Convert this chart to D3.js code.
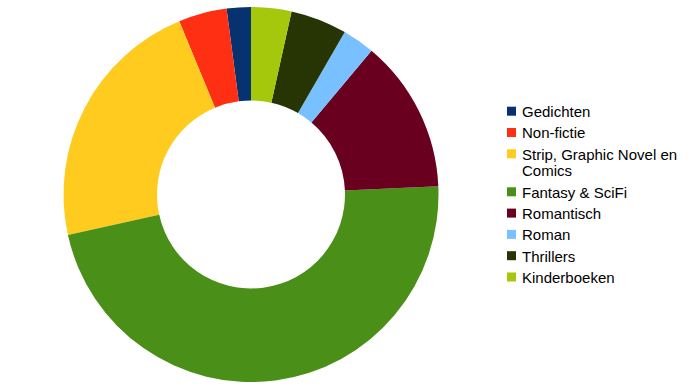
<!DOCTYPE html>
<html>
<head>
<meta charset="utf-8">
<script src="https://cdn.jsdelivr.net/npm/d3@7"></script>
<style>
  html, body { margin: 0; padding: 0; background: #ffffff; }
  svg { display: block; }
</style>
</head>
<body>
<svg id="chart" width="693" height="390"></svg>
<script>
const categories = ["Gedichten", "Non-fictie", "Strip, Graphic Novel en Comics", "Fantasy & SciFi", "Romantisch", "Roman", "Thrillers", "Kinderboeken"];
const values = [3, 6, 32, 68, 19, 4, 7, 5];
const colors = ["#06326f", "#ff2f14", "#fecb1e", "#4a8f18", "#6a0020", "#78c0ff", "#273505", "#a6c80c"];

const svg = d3.select("#chart");
const cx = 251, cy = 194.5, outerR = 187.5, innerR = 94;

const data = categories.map((c, i) => ({ category: c, value: values[i], color: colors[i] }));

const pie = d3.pie().sort(null).value(d => d.value).startAngle(0).endAngle(-2 * Math.PI);
const arc = d3.arc().innerRadius(innerR).outerRadius(outerR);

const g = svg.append("g").attr("transform", `translate(${cx},${cy})`);
g.selectAll("path")
  .data(pie(data))
  .join("path")
  .attr("d", arc)
  .attr("fill", d => d.data.color);

// Legend
const legend = svg.append("g").attr("class", "legend");
const lx = 507, tx = 522, sq = 9;
const rowGap = 21.3, lineGap = 16.7;
const maxW = 168;
let y = 111.7;
data.forEach(d => {
  const item = legend.append("g");
  item.append("rect")
    .attr("x", lx).attr("y", y - sq / 2 - 0.5)
    .attr("width", sq).attr("height", sq)
    .attr("fill", d.color);
  const text = item.append("text")
    .attr("x", tx).attr("y", y + 5.4)
    .attr("font-family", "'Liberation Sans', Arial, sans-serif")
    .attr("font-size", 15)
    .attr("fill", "#000");
  const words = d.category.split(" ");
  let line = [];
  let lines = [];
  const tmp = text.append("tspan").attr("x", tx);
  words.forEach(w => {
    line.push(w);
    tmp.text(line.join(" "));
    if (tmp.node().getComputedTextLength() > maxW && line.length > 1) {
      line.pop();
      lines.push(line.join(" "));
      line = [w];
    }
  });
  lines.push(line.join(" "));
  tmp.remove();
  lines.forEach((l, i) => {
    text.append("tspan").attr("x", tx).attr("dy", i === 0 ? 0 : lineGap).text(l);
  });
  y += rowGap + (lines.length - 1) * lineGap;
});
</script>
</body>
</html>
